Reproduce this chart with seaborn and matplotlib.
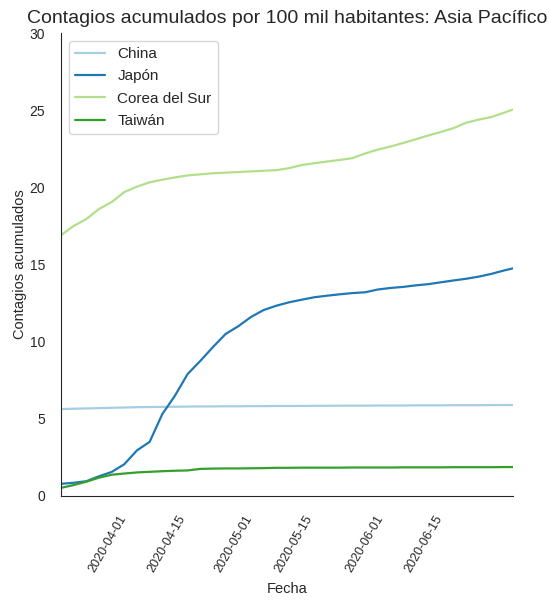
import pandas as pd
import numpy as np
import seaborn as sns
import matplotlib.pyplot as plt
import matplotlib.dates as mdates

# fechas cada 3 dias desde 2020-03-16, mas el ultimo dato (2020-07-01)
fechas = list(pd.date_range('2020-03-16', '2020-06-29', freq='3D')) + [pd.Timestamp('2020-07-01')]

paises = ['China', 'Japón', 'Corea del Sur', 'Taiwán']

china = [5.63, 5.65, 5.67, 5.69, 5.71, 5.73, 5.75, 5.76, 5.77, 5.78, 5.79, 5.80, 5.80,
         5.81, 5.81, 5.82, 5.82, 5.83, 5.83, 5.83, 5.84, 5.84, 5.85, 5.85, 5.85, 5.86,
         5.86, 5.86, 5.87, 5.87, 5.87, 5.88, 5.88, 5.88, 5.89, 5.89, 5.89]

japon = [0.78, 0.85, 0.95, 1.27, 1.55, 2.05, 2.95, 3.50, 5.30, 6.50, 7.90, 8.75, 9.65,
         10.50, 11.00, 11.60, 12.05, 12.33, 12.55, 12.72, 12.88, 12.98, 13.07, 13.15,
         13.20, 13.38, 13.48, 13.55, 13.65, 13.73, 13.85, 13.97, 14.08, 14.22, 14.40,
         14.62, 14.75]

corea = [16.90, 17.50, 17.95, 18.60, 19.05, 19.70, 20.05, 20.33, 20.50, 20.65, 20.78,
         20.85, 20.92, 20.96, 21.00, 21.04, 21.08, 21.12, 21.25, 21.45, 21.57, 21.68,
         21.78, 21.90, 22.20, 22.45, 22.65, 22.88, 23.12, 23.37, 23.60, 23.85, 24.20,
         24.40, 24.57, 24.85, 25.05]

taiwan = [0.52, 0.70, 0.92, 1.18, 1.37, 1.45, 1.52, 1.56, 1.60, 1.63, 1.65, 1.75, 1.77,
          1.78, 1.78, 1.79, 1.80, 1.82, 1.82, 1.83, 1.83, 1.83, 1.83, 1.84, 1.84, 1.84,
          1.84, 1.85, 1.85, 1.85, 1.85, 1.86, 1.86, 1.86, 1.86, 1.87, 1.87]

ticks_x = ['2020-04-01', '2020-04-15', '2020-05-01', '2020-05-15', '2020-06-01', '2020-06-15']

df = pd.DataFrame({
    'Fecha': fechas * 4,
    'Contagios': china + japon + corea + taiwan,
    'País': [p for p in paises for _ in fechas],
})

sns.set_style('white')
plt.rcParams['font.family'] = ['Liberation Sans', 'DejaVu Sans']

fig = plt.figure(figsize=(5.49, 6.04), dpi=100)
ax = fig.add_axes([0.111, 0.179, 0.823, 0.766])

sns.lineplot(data=df, x='Fecha', y='Contagios', hue='País', hue_order=paises,
             palette='Paired', linewidth=1.6, ax=ax)

ax.set_xlim(fechas[0], fechas[-1])
ax.set_ylim(0, 30)
ax.set_xticks(pd.to_datetime(ticks_x))
ax.xaxis.set_major_formatter(mdates.DateFormatter('%Y-%m-%d'))
plt.setp(ax.get_xticklabels(), rotation=60, ha='right')
ax.tick_params(axis='x', labelsize=9, colors='.15', pad=9)
ax.tick_params(axis='y', labelsize=10, colors='.15', pad=8)
ax.set_xlabel('Fecha', fontsize=10.5, color='.15', labelpad=5)
ax.set_ylabel('Contagios acumulados', fontsize=10.5, color='.15', labelpad=2)
ax.set_title('Contagios acumulados por 100 mil habitantes: Asia Pacífico', fontsize=14, color='.15', pad=7)
sns.despine(ax=ax)

leg = ax.legend(loc='upper left', fontsize=11, labelspacing=0.55)

fig.savefig('out.png', dpi=100)
